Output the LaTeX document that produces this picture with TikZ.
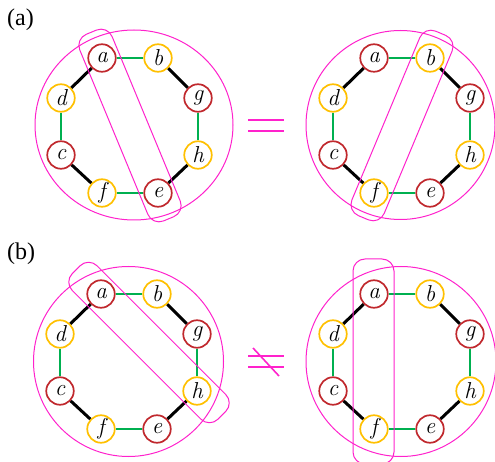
\documentclass[tikz,border=0pt]{standalone}
\usepackage{fontspec}
\newfontfamily\labfont{Liberation Serif}
\usetikzlibrary{calc}
\definecolor{nred}{HTML}{C0282D}
\definecolor{nyel}{HTML}{FFC000}
\definecolor{egrn}{HTML}{00B050}
\definecolor{pnk}{HTML}{FF22CC}
\tikzset{
  gnode/.style={circle, line width=1.7pt, fill=white, minimum size=27.5pt, inner sep=0pt, font=\fontsize{23}{23}\selectfont\itshape},
  rnode/.style={gnode, draw=nred},
  ynode/.style={gnode, draw=nyel},
  gedge/.style={egrn, line width=2.4pt},
  kedge/.style={black, line width=3pt},
  ring/.style={pnk, line width=1pt},
  band/.style={draw=pnk, line width=1pt, rounded corners=12pt, inner sep=0pt, shape=rectangle},
  sign/.style={pnk, line width=2pt},
  lab/.style={anchor=west, inner sep=0pt, font=\labfont\fontsize{24}{24}\selectfont}
}
\newcommand\octo[3]{%
  \node[rnode] (#1a) at ({#2+102},{#3+58}) {a};
  \node[ynode] (#1b) at ({#2+158},{#3+58}) {b};
  \node[rnode] (#1g) at ({#2+198},{#3+98}) {g};
  \node[ynode] (#1h) at ({#2+198},{#3+155}) {h};
  \node[rnode] (#1e) at ({#2+158},{#3+193}) {e};
  \node[ynode] (#1f) at ({#2+102},{#3+193}) {f};
  \node[rnode] (#1c) at ({#2+61},{#3+155}) {c};
  \node[ynode] (#1d) at ({#2+61},{#3+98}) {d};
  \draw[gedge] (#1a) -- (#1b);
  \draw[kedge] (#1b) -- (#1g);
  \draw[gedge] (#1g) -- (#1h);
  \draw[kedge] (#1h) -- (#1e);
  \draw[gedge] (#1e) -- (#1f);
  \draw[kedge] (#1f) -- (#1c);
  \draw[gedge] (#1c) -- (#1d);
  \draw[kedge] (#1d) -- (#1a);
}
\begin{document}
\begin{tikzpicture}[x=1pt,y=-1pt]
\useasboundingbox (0,0) rectangle (495,462);
% labels
\node[lab] (la) at (7,19.5) {(a)};
\node[lab] (lb) at (7,254) {(b)};
% graphs
\octo{p}{0}{0}
\octo{q}{272}{0}
\octo{r}{-1}{236}
\octo{s}{272}{236}
% rings
\draw[ring] (134,125) ellipse [x radius=99, y radius=95];
\draw[ring] (400.5,125) circle [radius=94.5];
\draw[ring] (128.5,361.5) circle [radius=95];
\draw[ring] (401,361.5) circle [radius=95];
% bands
\node[band, minimum width=202pt, minimum height=35pt, rotate=-67.5] (bp) at ($(pa)!0.5!(pe)$) {};
\node[band, minimum width=200pt, minimum height=35pt, rotate=67.3] (bq) at ($(qb)!0.5!(qf)$) {};
\node[band, minimum width=206pt, minimum height=35pt, rotate=-45] (br) at ($(ra)!0.5!(rh)$) {};
\node[band, minimum width=41pt, minimum height=205pt] (bs) at (373.5,361.5) {};
% equal and not-equal signs
\draw[sign] (248,120) -- (284,120);
\draw[sign] (248,131) -- (284,131);
\draw[sign] (248,356) -- (284,356);
\draw[sign] (248,367) -- (284,367);
\draw[sign, line width=1.6pt] (253,348) -- (279,376);
\end{tikzpicture}
\end{document}
